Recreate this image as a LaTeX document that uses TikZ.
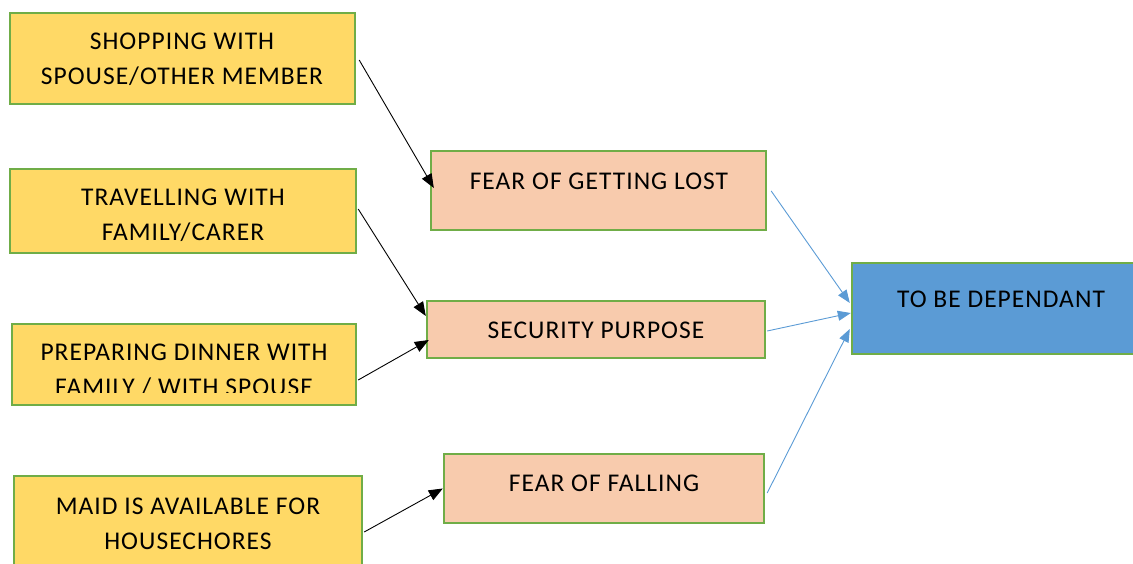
\documentclass[tikz,border=0pt]{standalone}
\usepackage{fontspec}
\setmainfont{Carlito}[LetterSpace=4]
\usetikzlibrary{arrows.meta}
\definecolor{ygold}{HTML}{FFD966}
\definecolor{gborder}{HTML}{70AD47}
\definecolor{peach}{HTML}{F8CBAD}
\definecolor{lblue}{HTML}{5B9BD5}
\begin{document}
\begin{tikzpicture}[x=1pt,y=-1pt,
  box/.style={draw=gborder,line width=2.4pt,inner sep=0pt},
  ybox/.style={box,fill=ygold},
  pbox/.style={box,fill=peach},
  bbox/.style={box,fill=lblue},
  txt/.style={align=center,inner sep=0pt,font=\fontsize{25.5}{35}\selectfont},
  blk/.style={line width=0.9pt,-{Triangle[length=14pt,width=11pt]}},
  blu/.style={draw=lblue,line width=0.9pt,-{Triangle[length=13pt,width=10pt]},lblue}]
\useasboundingbox (0,0) rectangle (1133,564);
\clip (0,0) rectangle (1133,564);
% left boxes
\node[ybox,minimum width=345pt,minimum height=91pt] (s1) at (182.5,58.5) {};
\node[txt] (s1t) at (182,59.5) {SHOPPING WITH\\SPOUSE/OTHER MEMBER};
\node[ybox,minimum width=346pt,minimum height=84pt] (s2) at (183,211) {};
\node[txt] (s2t) at (183,215.5) {TRAVELLING WITH\\FAMILY/CARER};
\node[ybox,minimum width=344pt,minimum height=81pt] (s3) at (184,364.5) {};
\begin{scope}
\clip (0,0) rectangle (1133,392.5);
\node[txt] (s3t) at (184,370.5) {PREPARING DINNER WITH\\FAMILY / WITH SPOUSE};
\end{scope}
\node[ybox,minimum width=348pt,minimum height=120pt] (s4) at (188,536) {};
\node[txt] (s4t) at (188,524) {MAID IS AVAILABLE FOR\\HOUSECHORES};
% middle boxes
\node[pbox,minimum width=335pt,minimum height=79pt] (p1) at (598.5,190.5) {};
\node[txt] (p1t) at (599,181) {FEAR OF GETTING LOST};
\node[pbox,minimum width=338pt,minimum height=57pt] (p2) at (596,329.5) {};
\node[txt] (p2t) at (596,330) {SECURITY PURPOSE};
\node[pbox,minimum width=320pt,minimum height=69pt] (p3) at (604,488.5) {};
\node[txt] (p3t) at (604,483) {FEAR OF FALLING};
% right box
\node[bbox,minimum width=284pt,minimum height=91pt] (d) at (994,308.5) {};
\node[txt] (dt) at (1001,299) {TO BE DEPENDANT};
% connectors
\draw[blk] ([xshift=3pt,yshift=-1.5pt]s1.east) -- ([xshift=4pt,yshift=2.5pt]p1.west);
\draw[blk] ([xshift=1pt,yshift=2pt]s2.east) -- ([yshift=13.5pt]p2.west);
\draw[blk] ([xshift=1pt,yshift=-15.5pt]s3.east) -- ([xshift=3pt,yshift=-10.5pt]p2.west);
\draw[blk] ([xshift=1pt,yshift=4pt]s4.east) -- (p3.west);
\draw[blu] ([xshift=4pt,yshift=-0.5pt]p1.east) -- ([xshift=-1pt,yshift=5.5pt]d.west);
\draw[blu] ([xshift=1pt,yshift=-1.5pt]p2.east) -- ([yshift=-4.5pt]d.west);
\draw[blu] ([xshift=2pt,yshift=-4.5pt]p3.east) -- ([xshift=-1pt,yshift=-20.5pt]d.west);
\end{tikzpicture}
\end{document}
